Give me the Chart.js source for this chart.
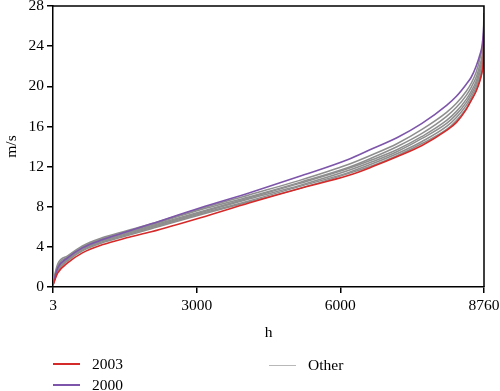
<!DOCTYPE html>
<html>
<head>
<meta charset="utf-8">
<script src="https://cdn.jsdelivr.net/npm/chart.js@4"></script>
<style>
  body { margin: 0; background: #fff; }
  #wrap { position: relative; width: 500px; height: 391px; overflow: hidden; font-family: "Liberation Serif", serif; }
  .key { position: absolute; height: 0; }
  .key .ln { position: absolute; left: 0; width: 27px; top: -1px; height: 2px; }
  .key .tx { position: absolute; left: 39px; top: -10px; font-size: 15.5px; line-height: 20px; color: #000; white-space: nowrap; }
</style>
</head>
<body>
<div id="wrap">
  <canvas id="c" width="500" height="391"></canvas>
  <div class="key" style="left:53px; top:364px"><div class="ln" style="background:#d42a2a"></div><div class="tx">2003</div></div>
  <div class="key" style="left:53px; top:385px"><div class="ln" style="background:#7d55aa"></div><div class="tx">2000</div></div>
  <div class="key" style="left:269px; top:365px"><div class="ln" style="background:#b8b8b8; height:1px; top:0"></div><div class="tx">Other</div></div>
</div>
<script>
// hours of the year (sorted duration curve)
const hours = [3, 100, 300, 600, 1000, 1500, 2000, 3000, 4000, 5000, 6000, 6500, 7000, 7500, 8000, 8200, 8400, 8500, 8600, 8680, 8720, 8750, 8760];

// wind speed, m/s
const y2003 = [0.2, 1.4, 2.4, 3.4, 4.2, 4.9, 5.5, 6.9, 8.4, 9.8, 11.1, 12.0, 13.0, 14.1, 15.6, 16.4, 17.7, 18.6, 19.5, 20.6, 21.4, 23.0, 27.3];
const y2000 = [0.3, 1.9, 2.9, 3.9, 4.7, 5.5, 6.3, 7.9, 9.4, 11.0, 12.7, 13.8, 14.9, 16.3, 18.1, 19.0, 20.2, 20.9, 22.0, 23.2, 24.0, 25.5, 26.5];
const other1 = [0.5, 2.3, 3.1, 4.1, 4.9, 5.6, 6.3, 7.8, 9.2, 10.6, 12.2, 13.2, 14.3, 15.7, 17.4, 18.3, 19.5, 20.3, 21.4, 22.8, 23.8, 25.5, 28.0];
const other2 = [0.4, 2.1, 3.0, 4.0, 4.8, 5.5, 6.2, 7.7, 9.0, 10.4, 11.9, 12.9, 14.0, 15.3, 17.0, 17.9, 19.1, 19.9, 20.9, 22.2, 23.0, 24.5, 26.0];
const other3 = [0.3, 1.9, 2.9, 3.9, 4.7, 5.4, 6.1, 7.5, 8.9, 10.3, 11.8, 12.7, 13.7, 15.0, 16.6, 17.5, 18.7, 19.5, 20.5, 21.8, 22.6, 24.0, 25.5];
const other4 = [0.3, 1.8, 2.8, 3.8, 4.6, 5.3, 6.0, 7.4, 8.8, 10.1, 11.6, 12.5, 13.5, 14.8, 16.3, 17.2, 18.4, 19.2, 20.2, 21.4, 22.2, 23.6, 25.0];
const other5 = [0.2, 1.7, 2.7, 3.7, 4.5, 5.2, 5.9, 7.3, 8.6, 10.0, 11.4, 12.3, 13.3, 14.5, 16.0, 16.9, 18.1, 18.9, 19.9, 21.0, 21.8, 23.2, 24.5];
const other6 = [0.2, 1.6, 2.6, 3.6, 4.4, 5.1, 5.8, 7.2, 8.5, 9.8, 11.3, 12.1, 13.1, 14.3, 15.7, 16.6, 17.8, 18.6, 19.6, 20.7, 21.5, 22.9, 24.0];

// x tick labels sit evenly spaced along the axis in the original
const xTickPos = [3, 2922, 5841, 8760];
const xTickLabels = ['3', '3000', '6000', '8760'];

const pts = arr => arr.map((v, i) => ({x: hours[i], y: v}));

function line(data, color, w) {
    return {
        data: pts(data),
        borderColor: color,
        borderWidth: w,
        pointRadius: 0,
        fill: false,
        cubicInterpolationMode: 'monotone'
    };
}

const grays = [other1, other2, other3, other4, other5, other6];

const frame = {
    id: 'frame',
    afterDraw(chart) {
        const {ctx, chartArea: a} = chart;
        ctx.save();
        ctx.strokeStyle = '#000';
        ctx.lineWidth = 1.5;
        ctx.beginPath();
        ctx.moveTo(a.left, a.top);
        ctx.lineTo(a.right, a.top);
        ctx.lineTo(a.right, a.bottom);
        ctx.stroke();
        ctx.restore();
    }
};

const font = {family: '"Liberation Serif", serif', size: 15.5};

new Chart(document.getElementById('c'), {
    type: 'line',
    data: {
        datasets: [
            line(y2003, '#d42a2a', 1.6),
            line(y2000, '#7d55aa', 1.6),
            ...grays.map(g => line(g, '#8e8e8e', 1.5))
        ]
    },
    options: {
        responsive: false,
        devicePixelRatio: 1,
        animation: false,
        layout: {padding: {left: 0, top: 6, right: 16, bottom: 44}},
        plugins: {legend: {display: false}, tooltip: {enabled: false}},
        scales: {
            x: {
                type: 'linear',
                min: 3,
                max: 8760,
                afterBuildTicks: s => { s.ticks = xTickPos.map(v => ({value: v})); },
                afterFit: s => { s.height = 60; s.paddingLeft = 0; s.paddingRight = 0; },
                ticks: {
                    color: '#000', font: font, maxRotation: 0, padding: 4,
                    callback: (v) => xTickLabels[xTickPos.indexOf(v)]
                },
                grid: {display: true, drawOnChartArea: false, drawTicks: true, tickLength: 6, color: '#000', lineWidth: 1.5},
                border: {display: true, color: '#000', width: 1.5},
                title: {display: true, text: 'h', color: '#000', font: font, padding: {top: 0, bottom: 5}}
            },
            y: {
                min: 0,
                max: 28,
                afterFit: s => { s.width = 53; s.paddingTop = 0; s.paddingBottom = 0; },
                ticks: {stepSize: 4, color: '#000', font: font, padding: 3},
                grid: {display: true, drawOnChartArea: false, drawTicks: true, tickLength: 6, color: '#000', lineWidth: 1.5},
                border: {display: true, color: '#000', width: 1.5},
                title: {display: true, text: 'm/s', color: '#000', font: font, padding: {top: 3, bottom: 0}}
            }
        }
    },
    plugins: [frame]
});
</script>
</body>
</html>
